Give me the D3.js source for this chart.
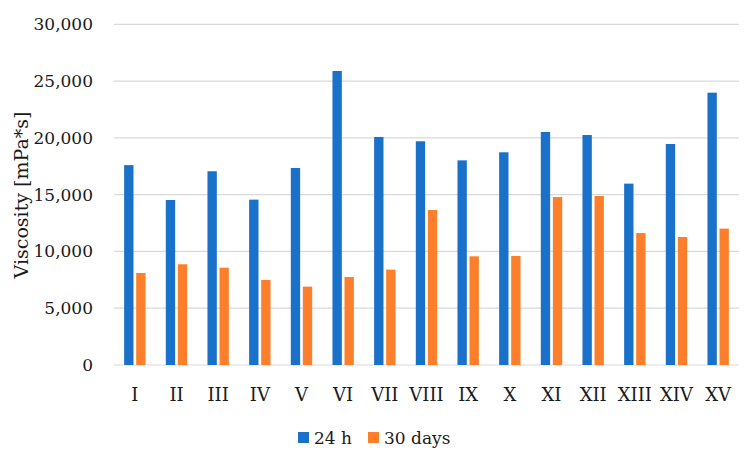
<!DOCTYPE html>
<html><head><meta charset="utf-8">
<script src="https://cdn.jsdelivr.net/npm/d3@7"></script>
<style>body{margin:0;background:#fff}svg{display:block}</style>
</head><body><svg id="c" width="750" height="459"></svg>
<script>
const categories = ["I","II","III","IV","V","VI","VII","VIII","IX","X","XI","XII","XIII","XIV","XV"];
const series = ["24 h","30 days"];
const values24h = [17600,14530,17060,14560,17350,25890,20080,19700,18020,18730,20520,20250,15970,19460,23980];
const values30d = [8100,8870,8570,7490,6900,7750,8400,13650,9570,9600,14790,14880,11620,11270,12010];
const yTicks = [0,5000,10000,15000,20000,25000,30000];
const colors = ["#1a71c9","#fd7f2b"];

const FONT = "'DejaVu Serif', 'Liberation Serif', 'Times New Roman', serif";
const svg = d3.select("#c");
const L = 114, R = 739, T = 24.3, B = 365;
const x0 = d3.scaleBand().domain(categories).range([L, R]).padding(0);
const y = d3.scaleLinear().domain([0,30000]).range([B, T]);
const pairW = 21.4;
const x1 = d3.scaleBand().domain(series).range([0, pairW]).paddingInner(0.224);

svg.append("g").selectAll("line").data(yTicks).join("line")
  .attr("x1", L).attr("x2", R).attr("y1", d => y(d)).attr("y2", d => y(d))
  .attr("stroke", "#d9d9d9").attr("stroke-width", 1.2);

const fmt = d3.format(",");
svg.append("g").selectAll("text").data(yTicks).join("text")
  .attr("x", 93).attr("y", d => y(d)).attr("dy", "0.35em")
  .attr("text-anchor", "end").attr("font-family", FONT).attr("font-size", 17).attr("fill", "#1a1a1a").text(d => fmt(d));

const data = categories.map((c,i) => ({c, vals:[values24h[i], values30d[i]]}));
const g = svg.append("g").selectAll("g").data(data).join("g")
  .attr("transform", d => `translate(${x0(d.c) + x0.bandwidth()/2 - pairW/2},0)`);
g.selectAll("rect").data(d => d.vals.map((v,k) => ({s: series[k], v, k}))).join("rect")
  .attr("x", d => x1(d.s)).attr("width", x1.bandwidth())
  .attr("y", d => y(d.v)).attr("height", d => y(0) - y(d.v))
  .attr("fill", d => colors[d.k]);

svg.append("g").selectAll("text").data(categories).join("text")
  .attr("x", d => x0(d) + x0.bandwidth()/2).attr("y", 400.5)
  .attr("text-anchor", "middle").attr("font-family", FONT).attr("font-size", 18).attr("fill", "#1a1a1a").text(d => d);

svg.append("text").attr("transform", "translate(28,195) rotate(-90)")
  .attr("text-anchor", "middle").attr("font-family", FONT).attr("font-size", 19).attr("fill", "#1a1a1a").text("Viscosity [mPa*s]");

const leg = svg.append("g");
const items = [{s:series[0], x:298, tx:314},{s:series[1], x:368, tx:384}];
items.forEach((it,k) => {
  leg.append("rect").attr("x", it.x).attr("y", 432).attr("width", 11).attr("height", 11).attr("fill", colors[k]);
  leg.append("text").attr("x", it.tx).attr("y", 443.5).attr("font-family", FONT).attr("font-size", 17).attr("fill", "#1a1a1a").text(it.s);
});
</script></body></html>
